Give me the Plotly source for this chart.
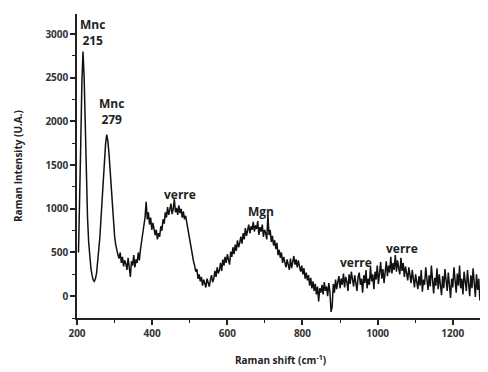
import plotly.graph_objects as go

shift_start = 204
shift_step = 3
intensity = [
    500, 1000, 1750, 2450, 2800, 2500, 1900, 1300, 900, 620,
    440, 320, 240, 185, 170, 200, 260, 380, 520, 680,
    900, 1150, 1400, 1600, 1740, 1850, 1780, 1640, 1460, 1230,
    1000, 820, 690, 590, 520, 470, 430, 500, 380, 450,
    340, 410, 370, 300, 440, 330, 220, 400, 350, 470,
    330, 420, 380, 500, 410, 540, 620, 700, 820, 900,
    1080, 880, 960, 820, 900, 760, 840, 780, 700, 760,
    650, 720, 680, 800, 750, 880, 830, 960, 900, 1020,
    930, 990, 1060, 940, 1000, 1110, 960, 1010, 930, 1040,
    950, 1000, 900, 970, 880, 920, 840, 760, 720, 620,
    540, 470, 400, 350, 280, 310, 200, 250, 170, 220,
    120, 190, 130, 100, 200, 150, 110, 190, 240, 160,
    200, 290, 220, 330, 260, 300, 380, 290, 420, 350,
    450, 380, 480, 420, 360, 510, 450, 560, 480, 590,
    520, 640, 560, 610, 680, 600, 720, 650, 780, 690,
    760, 820, 720, 800, 760, 850, 740, 810, 770, 860,
    700, 790, 740, 820, 680, 760, 720, 650, 930, 700,
    760, 620, 690, 580, 640, 540, 610, 470, 530, 440,
    500, 380, 450, 400, 330, 420, 350, 300, 430, 320,
    390, 460, 360, 420, 330, 410, 340, 280, 350, 250,
    320, 200, 270, 180, 240, 120, 210, 90, 170, 60,
    140, 20, 110, -60, 90, 40, 130, 20, 160, 60,
    110, 0, 150, 50, -180, -120, 140, 40, 190, 80,
    160, 230, 90, 200, 130, 260, 100, 220, 170, 60,
    250, 140, 280, 180, 110, 240, 170, 60, 220, 270,
    130, 200, 40, 240, 150, 300, 90, 200, 130, 340,
    170, 250, 80, 280, 190, 350, 140, 250, 390, 200,
    310, 150, 280, 400, 230, 350, 270, 450, 260, 380,
    300, 470, 280, 410, 320, 250, 440, 290, 380, 220,
    340, 260, 180, 330, 240, 150, 300, 200, 100, 250,
    160, 80, 230, 120, 300, 50, 190, 130, 330, 160,
    70, 240, 110, 350, 150, 30, 210, 120, 320, 80,
    250, 140, 10, 230, 90, 310, 160, 60, 270, 120,
    -20, 200, 100, 330, 150, 40, 260, 120, 350, 90,
    200, 20, 280, 130, 60, 300, 150, 0, 240, 90,
    320, 120, -10, 250, 70, 200, -50, 100,
]
raman_shift = [shift_start + shift_step * i for i in range(len(intensity))]

x_tick_vals = [200, 400, 600, 800, 1000, 1200]
x_tick_text = ["200", "400", "600", "800", "1000", "1200"]
y_tick_vals = [0, 500, 1000, 1500, 2000, 2500, 3000]
y_tick_text = ["0", "500", "1000", "1500", "2000", "2500", "3000"]

labels = ["Mnc<br>215", "Mnc<br>279", "verre", "Mgn", "verre", "verre"]
label_x = [240, 293, 474, 689, 942, 1064]
label_y = [3020, 2110, 1160, 965, 380, 540]

font_family = "Open Sans, Liberation Sans, sans-serif"

fig = go.Figure()
fig.add_trace(go.Scatter(
    x=raman_shift, y=intensity, mode="lines",
    line=dict(color="#111111", width=1.5),
    showlegend=False, hoverinfo="skip",
))

for t, x, y in zip(labels, label_x, label_y):
    fig.add_annotation(
        x=x, y=y, text="<b>" + t + "</b>", showarrow=False,
        font=dict(family=font_family, size=12, color="#222222"),
        xanchor="center", yanchor="middle", align="center",
    )

# page body has an 8px margin: figure is sized to fit inside the window
fig.update_layout(
    width=480, height=364,
    margin=dict(l=69, r=4, t=6, b=54),
    paper_bgcolor="white", plot_bgcolor="white",
    font=dict(family=font_family, color="#222222"),
    xaxis=dict(
        range=[200, 1283], showgrid=False, zeroline=False, automargin=False,
        showline=True, linecolor="#222222", linewidth=1.5,
        ticks="outside", ticklen=5, tickwidth=1.5, tickcolor="#222222",
        tickvals=x_tick_vals, ticktext=["<b>" + t + "</b>" for t in x_tick_text],
        tickfont=dict(size=10, family=font_family, color="#333333"),
        minor=dict(dtick=100, tick0=200, ticks="outside", ticklen=3, tickcolor="#222222", tickwidth=1.2),
        title=dict(text="<b>Raman shift (cm<sup>-1</sup>)</b>", font=dict(size=10, family=font_family), standoff=18),
    ),
    yaxis=dict(
        range=[-250, 3230], showgrid=False, zeroline=False, automargin=False,
        showline=True, linecolor="#222222", linewidth=1.5,
        ticks="outside", ticklen=5, tickwidth=1.5, tickcolor="#222222",
        tickvals=y_tick_vals, ticktext=["<b>" + t + "</b>" for t in y_tick_text],
        tickfont=dict(size=10, family=font_family, color="#333333"),
        minor=dict(dtick=250, tick0=0, ticks="outside", ticklen=3, tickcolor="#222222", tickwidth=1.2),
        title=dict(text="<b>Raman Intensity (U.A.)</b>", font=dict(size=10, family=font_family), standoff=21),
    ),
)

fig.write_html("out.html")
